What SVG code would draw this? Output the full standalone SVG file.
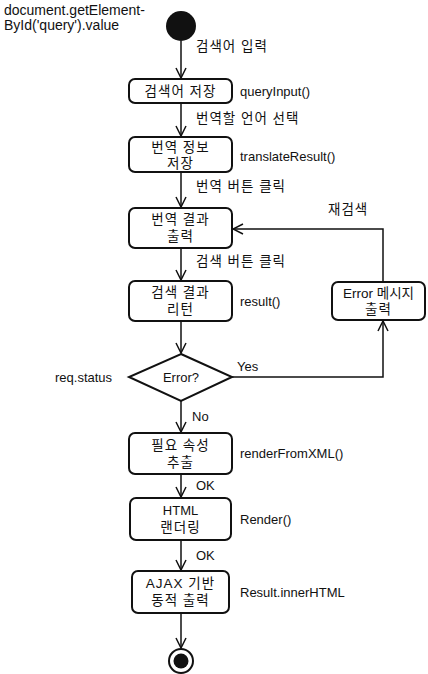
<svg xmlns="http://www.w3.org/2000/svg" width="428" height="674" viewBox="0 0 428 674">
<style>
text{font-family:"Liberation Sans","Noto Sans CJK KR",sans-serif;font-size:13px;fill:#111}
.k{font-size:13.5px;letter-spacing:1px}
.c{text-anchor:middle}
.box{fill:#fff;stroke:#111;stroke-width:2}
.ln{fill:none;stroke:#111;stroke-width:1.5}
</style>
<defs>
<marker id="a" viewBox="0 0 12 12" refX="11" refY="6" markerWidth="12" markerHeight="12" markerUnits="userSpaceOnUse" orient="auto">
<path d="M1,1 L11,6 L1,11" fill="none" stroke="#111" stroke-width="1.5"/>
</marker>
</defs>
<rect width="428" height="674" fill="#fff"/>
<g id="connectors">
<line class="ln" x1="181" y1="41" x2="181" y2="78" marker-end="url(#a)"/>
<line class="ln" x1="181" y1="103" x2="181" y2="136" marker-end="url(#a)"/>
<line class="ln" x1="181" y1="172" x2="181" y2="207" marker-end="url(#a)"/>
<line class="ln" x1="181" y1="248" x2="181" y2="280" marker-end="url(#a)"/>
<line class="ln" x1="181" y1="321" x2="181" y2="353" marker-end="url(#a)"/>
<line class="ln" x1="181" y1="401" x2="181" y2="432" marker-end="url(#a)"/>
<line class="ln" x1="181" y1="474" x2="181" y2="497" marker-end="url(#a)"/>
<line class="ln" x1="181" y1="540" x2="181" y2="570" marker-end="url(#a)"/>
<line class="ln" x1="181" y1="613" x2="181" y2="648" marker-end="url(#a)"/>
<polyline class="ln" points="232,377 383,377 383,321" marker-end="url(#a)"/>
<polyline class="ln" points="383,282 383,229 233,229" marker-end="url(#a)"/>
<text class="k" x="196" y="51">검색어 입력</text>
<text class="k" x="196" y="123">번역할 언어 선택</text>
<text class="k" x="196" y="191">번역 버튼 클릭</text>
<text class="k" x="328" y="214">재검색</text>
<text class="k" x="196" y="266">검색 버튼 클릭</text>
<text x="237" y="371">Yes</text>
<text x="192" y="421">No</text>
<text x="196" y="490">OK</text>
<text x="196" y="560">OK</text>
</g>
<g id="start">
<circle cx="181" cy="26" r="15" fill="#111"/>
<text x="4" y="15" style="font-size:14px">document.getElement-</text>
<text x="4" y="30" style="font-size:14px">ById('query').value</text>
</g>
<g id="n1">
<rect class="box" x="129" y="79" width="103" height="24" rx="6"/>
<text class="c k" x="180.5" y="96">검색어 저장</text>
<text x="240" y="96">queryInput()</text>
</g>
<g id="n2">
<rect class="box" x="129" y="137" width="103" height="35" rx="6"/>
<text class="c k" x="180.5" y="152">번역 정보</text>
<text class="c k" x="180.5" y="168">저장</text>
<text x="240" y="161">translateResult()</text>
</g>
<g id="n3">
<rect class="box" x="129" y="208" width="103" height="40" rx="6"/>
<text class="c k" x="180.5" y="224">번역 결과</text>
<text class="c k" x="180.5" y="241">출력</text>
</g>
<g id="n4">
<rect class="box" x="129" y="281" width="103" height="40" rx="6"/>
<text class="c k" x="180.5" y="297">검색 결과</text>
<text class="c k" x="180.5" y="314">리턴</text>
<text x="240" y="306">result()</text>
</g>
<g id="err">
<rect class="box" x="332" y="282" width="93" height="38" rx="6"/>
<text class="c" x="378.5" y="298" style="font-size:13.5px">Error 메시지</text>
<text class="c k" x="378.5" y="314">출력</text>
</g>
<g id="decision">
<polygon class="box" points="181,354 232,377 181,401 129,377"/>
<text class="c" x="181" y="382">Error?</text>
<text x="55" y="382">req.status</text>
</g>
<g id="n5">
<rect class="box" x="129" y="433" width="103" height="41" rx="6"/>
<text class="c k" x="180.5" y="450">필요 속성</text>
<text class="c k" x="180.5" y="467">추출</text>
<text x="240" y="458">renderFromXML()</text>
</g>
<g id="n6">
<rect class="box" x="130" y="498" width="101" height="42" rx="6"/>
<text class="c" x="180.5" y="515">HTML</text>
<text class="c k" x="180.5" y="532">랜더링</text>
<text x="240" y="524">Render()</text>
</g>
<g id="n7">
<rect class="box" x="132" y="571" width="97" height="42" rx="6"/>
<text class="c k" x="180.5" y="588">AJAX 기반</text>
<text class="c k" x="180.5" y="605">동적 출력</text>
<text x="240" y="597">Result.innerHTML</text>
</g>
<g id="end">
<circle cx="181" cy="661" r="12" fill="#fff" stroke="#111" stroke-width="2"/>
<circle cx="181" cy="661" r="7.5" fill="#111"/>
</g>
</svg>
